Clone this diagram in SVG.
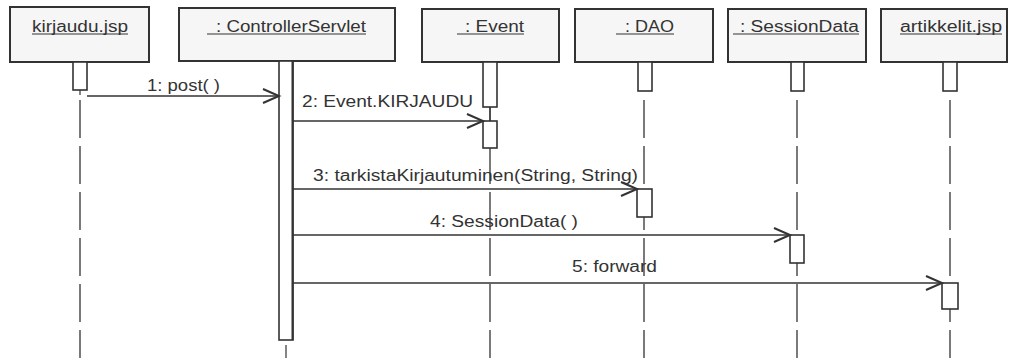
<svg xmlns="http://www.w3.org/2000/svg" width="1010" height="358" viewBox="0 0 1010 358">
<style>
.box{fill:#f6f6f6;stroke:#333;stroke-width:2}
.act{fill:#fff;stroke:#333;stroke-width:1.6}
.life{stroke:#333;stroke-width:1.3;stroke-dasharray:38 8;fill:none}
.ul{stroke:#333;stroke-width:1.2}
.t{font-family:"Liberation Sans",Arial,sans-serif;font-size:16px;fill:#333}
.msg{stroke:#333;stroke-width:1.3;fill:none}
.head{stroke:#333;stroke-width:2;fill:none}
</style>
<rect width="1010" height="358" fill="#fff"/>
<g id="kirjaudu">
<line class="life" x1="80" y1="100" x2="80" y2="358"/>
<line class="ul" x1="80" y1="90" x2="80" y2="95"/>
<rect class="box" x="10" y="7" width="139" height="55"/>
<text class="t" x="32" y="32" textLength="96" lengthAdjust="spacingAndGlyphs">kirjaudu.jsp</text>
<line class="ul" x1="32" y1="34" x2="128" y2="34"/>
<rect class="act" x="73" y="62" width="14" height="28"/>
</g>
<g id="controller">
<line class="ul" x1="286" y1="345" x2="286" y2="358"/>
<rect class="box" x="179" y="8" width="216" height="53"/>
<text class="t" x="216" y="32" textLength="150" lengthAdjust="spacingAndGlyphs">: ControllerServlet</text>
<line class="ul" x1="207" y1="34" x2="366" y2="34"/>
<rect class="act" x="279" y="61" width="14" height="279"/>
<line x1="292.5" y1="61" x2="292.5" y2="340" stroke="#333" stroke-width="2"/>
</g>
<g id="event">
<line class="life" x1="490" y1="100" x2="490" y2="358"/>
<line class="ul" x1="490" y1="107" x2="490" y2="121"/>
<rect class="box" x="422" y="9" width="137" height="53"/>
<text class="t" x="465" y="32" textLength="59" lengthAdjust="spacingAndGlyphs">: Event</text>
<line class="ul" x1="457" y1="34" x2="524" y2="34"/>
<rect class="act" x="483" y="62" width="14" height="45"/>
<rect class="act" x="483" y="121" width="14" height="27"/>
</g>
<g id="dao">
<line class="life" x1="644" y1="100" x2="644" y2="358"/>
<rect class="box" x="575" y="9" width="138" height="53"/>
<text class="t" x="625" y="32" textLength="49" lengthAdjust="spacingAndGlyphs">: DAO</text>
<line class="ul" x1="616" y1="34" x2="674" y2="34"/>
<rect class="act" x="638" y="62" width="14" height="29"/>
<rect class="act" x="637" y="189" width="15" height="28"/>
</g>
<g id="sessiondata">
<line class="life" x1="797" y1="100" x2="797" y2="358"/>
<rect class="box" x="728" y="9" width="138" height="53"/>
<text class="t" x="740" y="32" textLength="119" lengthAdjust="spacingAndGlyphs">: SessionData</text>
<line class="ul" x1="733" y1="34" x2="859" y2="34"/>
<rect class="act" x="791" y="62" width="13" height="29"/>
<rect class="act" x="790" y="235" width="14" height="28"/>
</g>
<g id="artikkelit">
<line class="life" x1="950" y1="100" x2="950" y2="358"/>
<rect class="box" x="881" y="9" width="126" height="53"/>
<text class="t" x="900" y="32" textLength="102" lengthAdjust="spacingAndGlyphs">artikkelit.jsp</text>
<line class="ul" x1="900" y1="34" x2="1002" y2="34"/>
<rect class="act" x="943" y="62" width="14" height="29"/>
<rect class="act" x="942" y="283" width="16" height="26"/>
</g>
<g id="connectors">
<line class="msg" x1="87" y1="96" x2="279" y2="96"/>
<polyline class="head" points="263,89 279,96 263,103"/>
<text class="t" x="147" y="91" textLength="73" lengthAdjust="spacingAndGlyphs">1: post( )</text>
<line class="msg" x1="293" y1="121" x2="483" y2="121"/>
<polyline class="head" points="467,114 483,121 467,128"/>
<text class="t" x="302" y="107" textLength="171" lengthAdjust="spacingAndGlyphs">2: Event.KIRJAUDU</text>
<line class="msg" x1="293" y1="189" x2="637" y2="189"/>
<polyline class="head" points="621,182 637,189 621,196"/>
<text class="t" x="313" y="181" textLength="325" lengthAdjust="spacingAndGlyphs">3: tarkistaKirjautuminen(String, String)</text>
<line class="msg" x1="293" y1="235" x2="790" y2="235"/>
<polyline class="head" points="774,228 790,235 774,242"/>
<text class="t" x="430" y="227" textLength="148" lengthAdjust="spacingAndGlyphs">4: SessionData( )</text>
<line class="msg" x1="293" y1="283" x2="942" y2="283"/>
<polyline class="head" points="926,276 942,283 926,290"/>
<text class="t" x="572" y="272" textLength="85" lengthAdjust="spacingAndGlyphs">5: forward</text>
</g>
</svg>
